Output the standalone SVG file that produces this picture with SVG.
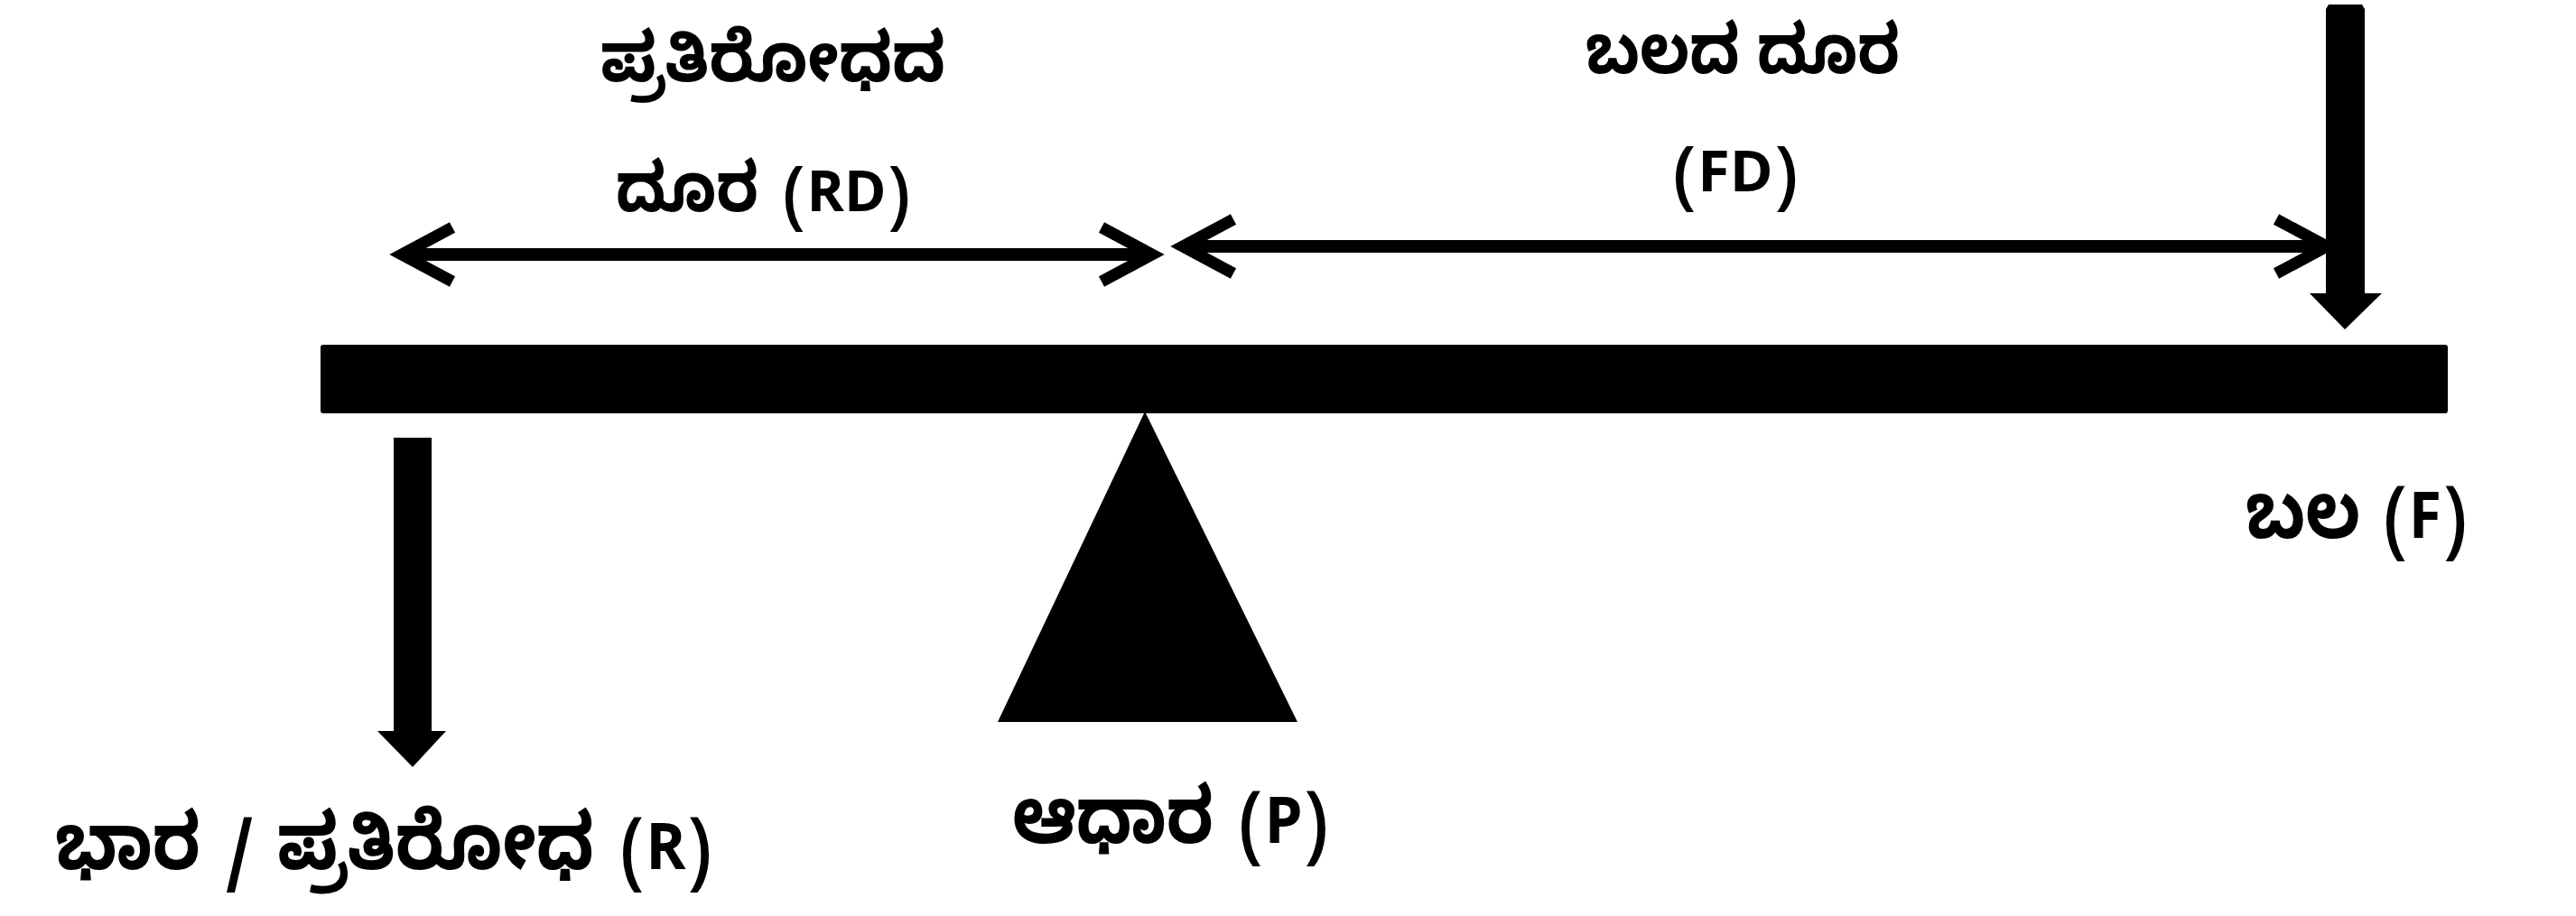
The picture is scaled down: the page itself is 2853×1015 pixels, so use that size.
<svg xmlns="http://www.w3.org/2000/svg" width="2853" height="1015" viewBox="0 0 2853 1015">
<style>
  text { font-family: "Noto Sans Kannada", "Noto Sans", "DejaVu Sans", sans-serif; font-weight: bold; fill: #000; }
  .kt { font-size: 76px; }
  .lt { font-size: 62px; }
  .kb { font-size: 87px; }
  .lb { font-size: 72px; }
  .dim { stroke: #000; stroke-width: 14; fill: none; }
  .solid { fill: #000; stroke: none; }
</style>
<defs>
  <marker id="chev" markerUnits="userSpaceOnUse" viewBox="-70 -40 85 80" refX="0" refY="0" markerWidth="85" markerHeight="80" orient="auto-start-reverse">
    <path d="M -56 -30 L 0 0 L -56 30" fill="none" stroke="#000" stroke-width="13" stroke-linejoin="miter"/>
  </marker>
</defs>
<rect width="2853" height="1015" fill="#fff"/>

<g id="lever">
  <rect class="solid" x="355" y="382" width="2356" height="76" rx="3"/>
</g>

<g id="fulcrum">
  <polygon class="solid" points="1268,456 1437,800 1105,800"/>
  <text class="kb" x="1121" y="934" textLength="223" lengthAdjust="spacingAndGlyphs">ಆಧಾರ</text>
  <text class="lb" x="1372" y="934" textLength="99" lengthAdjust="spacingAndGlyphs">(P)</text>
</g>

<g id="load">
  <polygon class="solid" points="436,485 478,485 478,810 494,810 457,850 418,810 436,810"/>
  <text class="kb" x="61" y="963" textLength="161" lengthAdjust="spacingAndGlyphs">ಭಾರ</text>
  <text class="lb" x="265" y="963" text-anchor="middle">/</text>
  <text class="kb" x="307" y="963" textLength="351" lengthAdjust="spacingAndGlyphs">ಪ್ರತಿರೋಧ</text>
  <text class="lb" x="687" y="963" textLength="101" lengthAdjust="spacingAndGlyphs">(R)</text>
</g>

<g id="force">
  <polygon class="solid" points="2579,5 2616,5 2619,10 2619,325 2638,325 2597,365 2558,325 2576,325 2576,10"/>
  <text class="kb" x="2487" y="596" textLength="127" lengthAdjust="spacingAndGlyphs">ಬಲ</text>
  <text class="lb" x="2640" y="596" textLength="92" lengthAdjust="spacingAndGlyphs">(F)</text>
</g>

<g id="resistance-distance">
  <text class="kt" x="665" y="90" textLength="382" lengthAdjust="spacingAndGlyphs">ಪ್ರತಿರೋಧದ</text>
  <text class="kt" x="682" y="234" textLength="158" lengthAdjust="spacingAndGlyphs">ದೂರ</text>
  <text class="lt" x="867" y="234" textLength="141" lengthAdjust="spacingAndGlyphs">(RD)</text>
</g>

<g id="force-distance">
  <text class="kt" x="1756" y="81" textLength="348" lengthAdjust="spacingAndGlyphs">ಬಲದ ದೂರ</text>
  <text class="lt" x="1853" y="212" textLength="138" lengthAdjust="spacingAndGlyphs">(FD)</text>
</g>

<g id="connectors">
  <line class="dim" x1="445" y1="282" x2="1276" y2="282" marker-start="url(#chev)" marker-end="url(#chev)"/>
  <line class="dim" x1="1310" y1="273" x2="2577" y2="273" marker-start="url(#chev)" marker-end="url(#chev)"/>
</g>
</svg>
